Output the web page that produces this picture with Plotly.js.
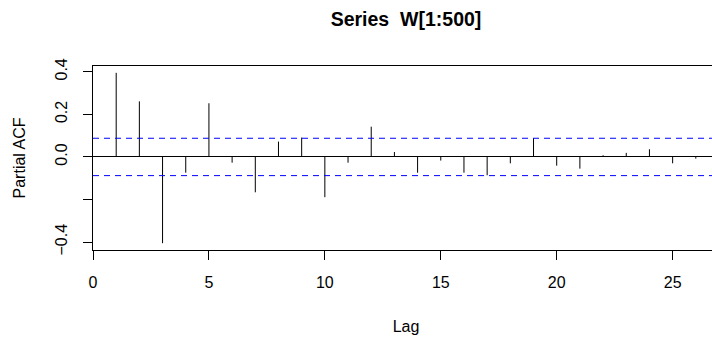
<!DOCTYPE html>
<html>
<head>
<meta charset="utf-8">
<script src="https://cdn.plot.ly/plotly-3.0.1.min.js"></script>
<style>
html, body { margin: 0; padding: 0; overflow: hidden; background: #fff; }
#chart { width: 740px; height: 338px; }
</style>
</head>
<body>
<div id="chart"></div>
<script>
// Data (sample PACF of W[1:500])
const lags = [1,2,3,4,5,6,7,8,9,10,11,12,13,14,15,16,17,18,19,20,21,22,23,24,25,26];
const pacf = [0.395,0.261,-0.405,-0.074,0.252,-0.027,-0.166,0.072,0.091,-0.189,
              -0.027,0.142,0.023,-0.074,-0.017,-0.074,-0.086,-0.030,0.088,-0.041,
              -0.055,0.008,0.019,0.036,-0.030,-0.008];
const ciBound = 0.0877;   // 1.96/sqrt(500)
const xTickVals = [0,5,10,15,20,25];
const xTickText = ["0","5","10","15","20","25"];
const yTickVals = [-0.4,-0.2,0.0,0.2,0.4];
const yTickText = ["\u22120.4","","0.0","0.2","0.4"];

const segX = [], segY = [];
lags.forEach((l, i) => { segX.push(l, l, null); segY.push(0, pacf[i], null); });

const font = "Liberation Sans, Arial, Helvetica, sans-serif";

const traces = [{
  x: segX, y: segY, type: "scatter", mode: "lines",
  line: {color: "#000", width: 1}, hoverinfo: "skip", showlegend: false
}];

const layout = {
  width: 740, height: 338,
  margin: {l: 93, r: 21, t: 66, b: 88},
  paper_bgcolor: "#fff", plot_bgcolor: "#fff",
  font: {family: font, size: 16, color: "#000"},
  title: {text: "<b>Series\u00A0 W[1:500]</b>", font: {family: font, size: 19.5, color: "#000"},
          x: 0.5, xref: "paper", xanchor: "center", y: 1 - 19/338, yref: "container", yanchor: "middle"},
  xaxis: {
    range: [0, 27], showgrid: false, zeroline: false,
    showline: true, linecolor: "#000", linewidth: 1, mirror: true,
    ticks: "outside", ticklen: 9, tickwidth: 1, tickcolor: "#000",
    tickvals: xTickVals, ticktext: xTickText, ticklabelstandoff: 9,
    tickfont: {family: font, size: 16, color: "#000"},
    title: {text: "Lag", font: {family: font, size: 16, color: "#000"}, standoff: 30},
    automargin: false
  },
  yaxis: {
    range: [-0.437, 0.427], showgrid: false,
    zeroline: true, zerolinecolor: "#000", zerolinewidth: 1,
    showline: true, linecolor: "#000", linewidth: 1, mirror: true,
    ticks: "outside", ticklen: 9, tickwidth: 1, tickcolor: "#000",
    tickvals: yTickVals, ticktext: yTickText, tickangle: -90, ticklabelstandoff: 10,
    tickfont: {family: font, size: 16, color: "#000"},
    title: {text: "Partial ACF", font: {family: font, size: 16, color: "#000"}, standoff: 22},
    automargin: false
  },
  shapes: [ciBound, -ciBound].map(v => ({
    type: "line", xref: "paper", x0: 0, x1: 1, yref: "y", y0: v, y1: v,
    line: {color: "#0000ff", width: 1, dash: "6px,5px"}
  }))
};

Plotly.newPlot("chart", traces, layout, {displayModeBar: false, staticPlot: true});
</script>
</body>
</html>
